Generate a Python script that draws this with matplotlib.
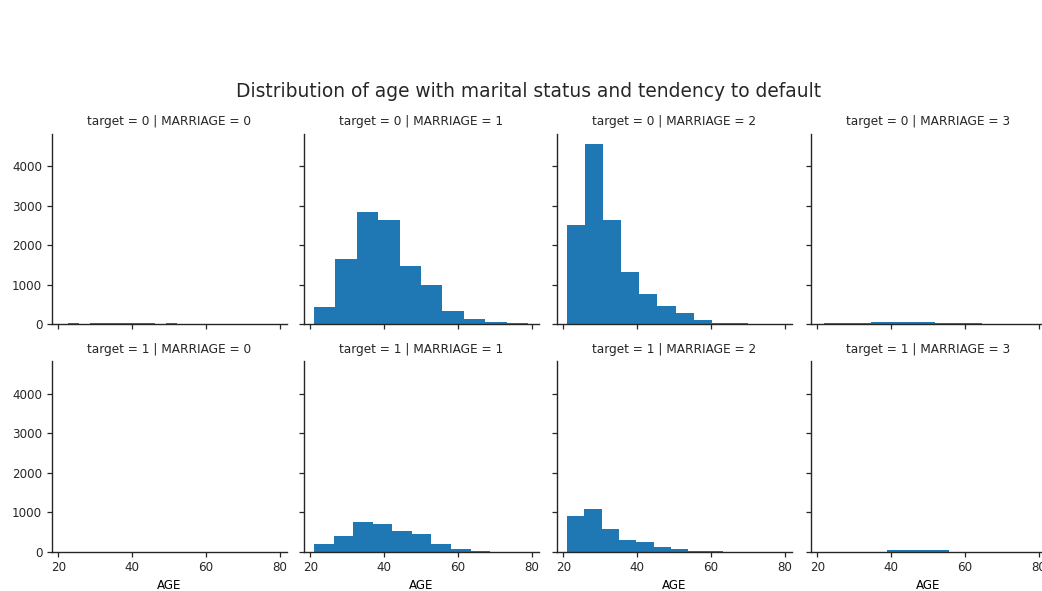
import matplotlib
matplotlib.use("Agg")
import matplotlib.pyplot as plt
import numpy as np

# histogram bins (edges) and counts per facet
targets = [0, 1]
marriages = [0, 1, 2, 3]

edges_t0_m0 = np.linspace(22.7, 52.2, 11)
counts_t0_m0 = [18, 0, 16, 18, 17, 19, 16, 15, 0, 16]
edges_t0_m1 = np.linspace(21, 79, 11)
counts_t0_m1 = [430, 1634, 2830, 2644, 1465, 994, 337, 118, 40, 25]
edges_t0_m2 = np.linspace(21, 70, 11)
counts_t0_m2 = [2518, 4564, 2644, 1305, 750, 463, 278, 93, 35, 22]
edges_t0_m3 = np.linspace(21.8, 64.6, 11)
counts_t0_m3 = [22, 24, 26, 50, 55, 52, 48, 24, 20, 18]

edges_t1_m0 = np.linspace(25, 55, 11)
counts_t1_m0 = [1, 0, 1, 0, 1, 0, 1, 0, 0, 1]
edges_t1_m1 = np.linspace(21, 74, 11)
counts_t1_m1 = [186, 398, 754, 695, 525, 441, 186, 60, 25, 5]
edges_t1_m2 = np.linspace(21, 68, 11)
counts_t1_m2 = [907, 1093, 585, 305, 237, 119, 59, 25, 17, 5]
edges_t1_m3 = np.linspace(22.4, 63.9, 11)
counts_t1_m3 = [2, 3, 3, 4, 38, 42, 40, 36, 4, 2]

panels = {
    (0, 0): (edges_t0_m0, counts_t0_m0), (0, 1): (edges_t0_m1, counts_t0_m1),
    (0, 2): (edges_t0_m2, counts_t0_m2), (0, 3): (edges_t0_m3, counts_t0_m3),
    (1, 0): (edges_t1_m0, counts_t1_m0), (1, 1): (edges_t1_m1, counts_t1_m1),
    (1, 2): (edges_t1_m2, counts_t1_m2), (1, 3): (edges_t1_m3, counts_t1_m3),
}

txt = "#262626"
plt.rcParams["text.color"] = txt
plt.rcParams["axes.edgecolor"] = txt
plt.rcParams["xtick.color"] = txt
plt.rcParams["ytick.color"] = txt

fig = plt.figure(figsize=(10.42, 5.91), dpi=100)

lefts = [0.0499, 0.2917, 0.5345, 0.7783]
bottoms = [0.4518, 0.0665]
w, h = 0.2255, 0.322

for r, t in enumerate(targets):
    for c, m in enumerate(marriages):
        ax = fig.add_axes([lefts[c], bottoms[r], w, h])
        edges, counts = panels[(t, m)]
        ax.hist(edges[:-1], bins=edges, weights=counts, color="#1f77b4")
        ax.set_xlim(18.3, 81.9)
        ax.set_ylim(0, 4820)
        ax.set_xticks([20, 40, 60, 80])
        ax.set_yticks([0, 1000, 2000, 3000, 4000])
        for s in ["top", "right"]:
            ax.spines[s].set_visible(False)
        ax.spines["left"].set_linewidth(1.0)
        ax.spines["bottom"].set_linewidth(1.0)
        ax.tick_params(labelsize=8.6, length=3.5, width=0.9)
        if c > 0:
            ax.tick_params(labelleft=False)
        if r == 0:
            ax.tick_params(labelbottom=False)
        else:
            ax.set_xlabel("AGE", fontsize=8.6, labelpad=3)
        ax.set_title(f"target = {t} | MARRIAGE = {m}", fontsize=8.7, pad=6)

fig.text(0.507, 0.846, "Distribution of age with marital status and tendency to default",
         ha="center", va="center", fontsize=13.4)

fig.savefig("out.png", dpi=100)
